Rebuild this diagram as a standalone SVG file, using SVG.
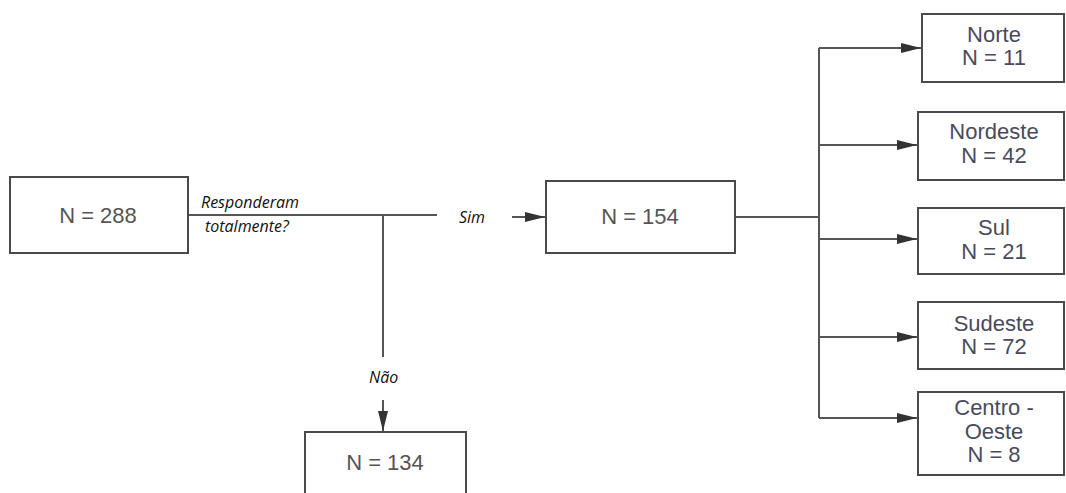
<svg xmlns="http://www.w3.org/2000/svg" width="1066" height="493" viewBox="0 0 1066 493">
<style>
.box{fill:#fff;stroke:#4a4a4a;stroke-width:2}
.bt{font-family:"Liberation Sans",Arial,sans-serif;font-size:22px;fill:#555;text-anchor:middle}
.rt{font-family:"Liberation Sans",Arial,sans-serif;font-size:22px;fill:#4a4a5c;text-anchor:middle}
.lb{font-family:"Open Sans","Liberation Sans",sans-serif;font-size:16px;font-style:italic;fill:#111}
.ln{fill:none;stroke:#555;stroke-width:2}
</style>
<defs>
<marker id="ah" viewBox="0 0 20 10" refX="20" refY="5" markerWidth="20" markerHeight="10" markerUnits="userSpaceOnUse" orient="auto">
<path d="M0,0 L20,5 L0,10 z" fill="#333"/>
</marker>
</defs>
<rect width="1066" height="493" fill="#fff"/>
<g id="connectors">
<path class="ln" d="M188,215 H437"/>
<path class="ln" d="M383,215 V357"/>
<path class="ln" d="M383,400 V431" marker-end="url(#ah)"/>
<path class="ln" d="M512,217 H545" marker-end="url(#ah)"/>
<path class="ln" d="M735,217 H819"/>
<path class="ln" d="M819,48 V418"/>
<path class="ln" d="M819,48 H921" marker-end="url(#ah)"/>
<path class="ln" d="M819,145 H917" marker-end="url(#ah)"/>
<path class="ln" d="M819,239 H917" marker-end="url(#ah)"/>
<path class="ln" d="M819,337 H917" marker-end="url(#ah)"/>
<path class="ln" d="M819,418 H917" marker-end="url(#ah)"/>
<text class="lb" x="201" y="208">Responderam</text>
<text class="lb" x="205" y="232">totalmente?</text>
<text class="lb" x="459" y="223">Sim</text>
<text class="lb" x="369" y="383">Não</text>
</g>
<g id="n288">
<rect class="box" x="10" y="177" width="178" height="76"/>
<text class="bt" x="98" y="223">N = 288</text>
</g>
<g id="n154">
<rect class="box" x="546" y="181" width="189" height="72"/>
<text class="bt" x="640" y="224">N = 154</text>
</g>
<g id="n134">
<rect class="box" x="305" y="432" width="161" height="70"/>
<text class="bt" x="385" y="470">N = 134</text>
</g>
<g id="norte">
<rect class="box" x="922" y="14" width="142" height="68"/>
<text class="rt" x="994" y="42">Norte</text>
<text class="rt" x="994" y="65">N = 11</text>
</g>
<g id="nordeste">
<rect class="box" x="918" y="112" width="146" height="68"/>
<text class="rt" x="994" y="139">Nordeste</text>
<text class="rt" x="994" y="163">N = 42</text>
</g>
<g id="sul">
<rect class="box" x="918" y="208" width="146" height="66"/>
<text class="rt" x="994" y="235">Sul</text>
<text class="rt" x="994" y="259">N = 21</text>
</g>
<g id="sudeste">
<rect class="box" x="918" y="302" width="146" height="67"/>
<text class="rt" x="994" y="331">Sudeste</text>
<text class="rt" x="994" y="354">N = 72</text>
</g>
<g id="centro-oeste">
<rect class="box" x="918" y="392" width="146" height="83"/>
<text class="rt" x="994" y="415">Centro -</text>
<text class="rt" x="994" y="439">Oeste</text>
<text class="rt" x="994" y="462">N = 8</text>
</g>
</svg>
